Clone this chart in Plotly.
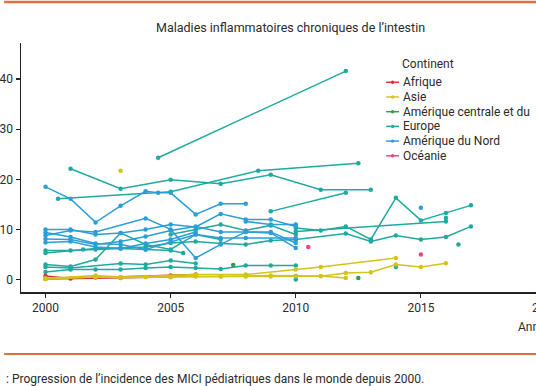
import plotly.graph_objects as go

# ---------------- data ----------------
continents = ["Afrique", "Asie", "Amérique centrale et du Sud", "Europe", "Amérique du Nord", "Océanie"]
continent_labels = ["Afrique", "Asie", "Amérique centrale et du", "Europe", "Amérique du Nord", "Océanie"]
continent_colors = ["#d8303a", "#d3c41a", "#2e9e52", "#1fa99f", "#2b9ed8", "#e8497d"]

afrique_x = [[2000, 2001, 2002, 2005, 2006], [2000, 2003, 2005]]
afrique_y = [[0.7, 0.2, 0.4, 0.8, 1.0], [0.1, 0.3, 0.5]]

asie_x = [
    [2000, 2002, 2003, 2004, 2005, 2006, 2007, 2008, 2009, 2010, 2011, 2012, 2013, 2014, 2015, 2016],
    [2000, 2002, 2003, 2006, 2008, 2010, 2011, 2014],
    [2000, 2002, 2003, 2004, 2005, 2007, 2009, 2011, 2012],
    [2003],
]
asie_y = [
    [0.2, 0.5, 0.4, 0.5, 0.6, 0.6, 0.6, 0.6, 0.6, 0.66, 0.66, 1.3, 1.45, 3.0, 2.5, 3.25],
    [0.2, 0.8, 0.5, 1.0, 1.0, 2.0, 2.5, 4.3],
    [0.1, 0.5, 0.4, 0.5, 0.5, 0.6, 0.8, 0.7, 0.3],
    [21.7],
]

amcs_x = [[2007.5], [2012.5]]
amcs_y = [[2.9], [0.3]]

europe_x = [
    [2004.5, 2012],
    [2001, 2003, 2005, 2007, 2009, 2011, 2013],
    [2000.5, 2005, 2008.5, 2012.5],
    [2009, 2012],
    [2010, 2011, 2012, 2013, 2014, 2015, 2016, 2017],
    [2010, 2016],
    [2010, 2012, 2013, 2014, 2015, 2016, 2017],
    [2000, 2001, 2002, 2003, 2004, 2005, 2005.5],
    [2000, 2001.5, 2002, 2003, 2004, 2005, 2006, 2007, 2008, 2009, 2010],
    [2000, 2001, 2002, 2003, 2004, 2005, 2006, 2007],
    [2000, 2001, 2002, 2003, 2004, 2005, 2006, 2007, 2008, 2009, 2010],
    [2000, 2001, 2003, 2004, 2005, 2006],
    [2005, 2006, 2007, 2008, 2009, 2010],
    [2010], [2010], [2014], [2016.5], [2016],
]
europe_y = [
    [24.3, 41.6],
    [22.1, 18.1, 19.9, 19.1, 20.9, 17.9, 17.9],
    [16.1, 17.5, 21.7, 23.2],
    [13.6, 17.3],
    [10.3, 9.8, 10.6, 8.0, 16.3, 11.8, 13.3, 14.8],
    [9.6, 11.6],
    [8.0, 9.2, 7.6, 8.8, 8.0, 8.5, 10.6],
    [5.8, 5.8, 6.0, 6.2, 6.0, 5.8, 5.3],
    [5.3, 6.0, 6.2, 6.3, 6.5, 7.3, 7.6, 7.2, 7.0, 7.8, 8.0],
    [3.0, 2.6, 4.0, 9.3, 7.0, 6.0, 9.0, 8.0],
    [1.5, 2.0, 2.0, 2.0, 2.3, 2.5, 2.3, 2.1, 2.8, 2.8, 2.8],
    [2.5, 2.3, 3.2, 3.0, 3.8, 3.2],
    [9.0, 10.0, 11.0, 9.8, 10.8, 9.0],
    [0.0], [0.7], [2.5], [7.0], [12.3],
]

amn_x = [
    [2000, 2001, 2002, 2003, 2004, 2004.5, 2005, 2006, 2007, 2008],
    [2000, 2001, 2002, 2003, 2004, 2005, 2006, 2007, 2008, 2009, 2010],
    [2000, 2001, 2002, 2003, 2004, 2005, 2006, 2007, 2008, 2010],
    [2000, 2001, 2002, 2004, 2005, 2006, 2007, 2008, 2009, 2010],
    [2000, 2001, 2002, 2003, 2004, 2005, 2006, 2007, 2008, 2009, 2010],
    [2000, 2001, 2002, 2003, 2004, 2005, 2006],
    [2008, 2009, 2010],
    [2015],
]
amn_y = [
    [18.5, 16.1, 11.4, 14.7, 17.6, 17.3, 17.3, 13.0, 15.1, 15.1],
    [10.0, 10.0, 9.0, 9.3, 10.0, 11.0, 10.5, 13.1, 12.0, 12.0, 10.6],
    [9.4, 8.5, 7.2, 7.0, 6.0, 7.5, 9.0, 8.3, 8.3, 8.3],
    [8.8, 9.8, 9.5, 12.2, 10.0, 4.3, 7.0, 9.5, 9.3, 6.3],
    [8.1, 8.0, 7.0, 7.6, 8.6, 9.8, 10.6, 9.5, 9.5, 9.5, 7.3],
    [7.4, 7.6, 6.5, 6.2, 7.2, 8.0, 9.5],
    [11.6, 11.0, 11.0],
    [14.3],
]

oceanie_x = [[2010.5], [2015]]
oceanie_y = [[6.5], [5.0]]

x_ticks = [2000, 2005, 2010, 2015]
y_ticks = [0, 10, 20, 30, 40]

title_text = "Maladies inflammatoires chroniques de l’intestin"
caption_text = ": Progression de l’incidence des MICI pédiatriques dans le monde depuis 2000."

# ---------------- figure ----------------
W, H = 536, 386
ML, MR, MT, MB = 17, 0, 43, 94
PW, PH = W - ML - MR, H - MT - MB
FONT = "Roboto"
TXT = "#2b2b2b"


def px_to_paper_x(px):
    return (px - ML) / PW


def py_to_paper_y(py):
    return (H - MB - py) / PH


fig = go.Figure()

groups = {
    0: (afrique_x, afrique_y),
    1: (asie_x, asie_y),
    2: (amcs_x, amcs_y),
    3: (europe_x, europe_y),
    4: (amn_x, amn_y),
    5: (oceanie_x, oceanie_y),
}
order = [3, 4, 2, 5, 0, 1]
for ci in order:
    xs, ys = groups[ci]
    for xx, yy in zip(xs, ys):
        fig.add_trace(go.Scatter(
            x=xx, y=yy, mode="lines+markers",
            line=dict(color=continent_colors[ci], width=1.5),
            marker=dict(color=continent_colors[ci], size=4.5),
            name=continents[ci], showlegend=False, hoverinfo="skip",
        ))

axis_common = dict(
    showline=True, linecolor="#222", linewidth=1.5, ticks="outside", ticklen=4,
    tickcolor="#222", tickwidth=1.2, showgrid=False, zeroline=False,
    tickfont=dict(family=FONT, size=12, color=TXT),
)
fig.update_xaxes(range=[1999.02, 2019.6], tickvals=x_ticks, ticktext=[str(t) for t in x_ticks], **axis_common)
fig.update_yaxes(range=[-2.49, 47.2], tickvals=y_ticks, **axis_common)

annotations = [
    dict(text=title_text, x=px_to_paper_x(289), y=py_to_paper_y(28), xref="paper", yref="paper",
         xanchor="center", yanchor="middle", showarrow=False, font=dict(family=FONT, size=12.5, color=TXT)),
    dict(text="Continent", x=px_to_paper_x(399), y=py_to_paper_y(64), xref="paper", yref="paper",
         xanchor="left", yanchor="middle", showarrow=False, font=dict(family=FONT, size=12, color=TXT)),
    dict(text="2020", x=px_to_paper_x(546), y=py_to_paper_y(308), xref="paper", yref="paper",
         xanchor="center", yanchor="middle", showarrow=False, font=dict(family=FONT, size=12, color=TXT)),
    dict(text="Année", x=px_to_paper_x(516), y=py_to_paper_y(327), xref="paper", yref="paper",
         xanchor="left", yanchor="middle", showarrow=False, font=dict(family=FONT, size=12, color=TXT)),
    dict(text=caption_text, x=px_to_paper_x(0), y=py_to_paper_y(379), xref="paper", yref="paper",
         xanchor="left", yanchor="middle", showarrow=False, font=dict(family=FONT, size=12, color=TXT)),
]

shapes = [
    dict(type="line", xref="paper", yref="paper", x0=px_to_paper_x(0), x1=px_to_paper_x(W),
         y0=py_to_paper_y(2), y1=py_to_paper_y(2), line=dict(color="#e2703f", width=2.5)),
    dict(type="line", xref="paper", yref="paper", x0=px_to_paper_x(0), x1=px_to_paper_x(W),
         y0=py_to_paper_y(354), y1=py_to_paper_y(354), line=dict(color="#e2703f", width=2)),
]

# manual legend (compact spacing as in the reference)
leg_y0, leg_dy = 82.3, 14.7
for i, (lab, col) in enumerate(zip(continent_labels, continent_colors)):
    yy = leg_y0 + i * leg_dy
    shapes.append(dict(type="line", xref="paper", yref="paper",
                       x0=px_to_paper_x(385), x1=px_to_paper_x(398),
                       y0=py_to_paper_y(yy), y1=py_to_paper_y(yy), line=dict(color=col, width=1.5)))
    shapes.append(dict(type="circle", xref="paper", yref="paper",
                       x0=px_to_paper_x(389.8), x1=px_to_paper_x(393.2),
                       y0=py_to_paper_y(yy - 1.7), y1=py_to_paper_y(yy + 1.7),
                       fillcolor=col, line=dict(color=col, width=0)))
    annotations.append(dict(text=lab, x=px_to_paper_x(399.5), y=py_to_paper_y(yy), xref="paper", yref="paper",
                            xanchor="left", yanchor="middle", showarrow=False,
                            font=dict(family=FONT, size=12, color=TXT)))

fig.update_layout(
    width=W, height=H, margin=dict(l=ML, r=MR, t=MT, b=MB, pad=0),
    paper_bgcolor="white", plot_bgcolor="white", showlegend=False,
    annotations=annotations, shapes=shapes,
)

fig.write_html("out.html", config={"displayModeBar": False, "staticPlot": True},
               post_script="document.body.style.margin='0';document.body.style.overflow='hidden';")
